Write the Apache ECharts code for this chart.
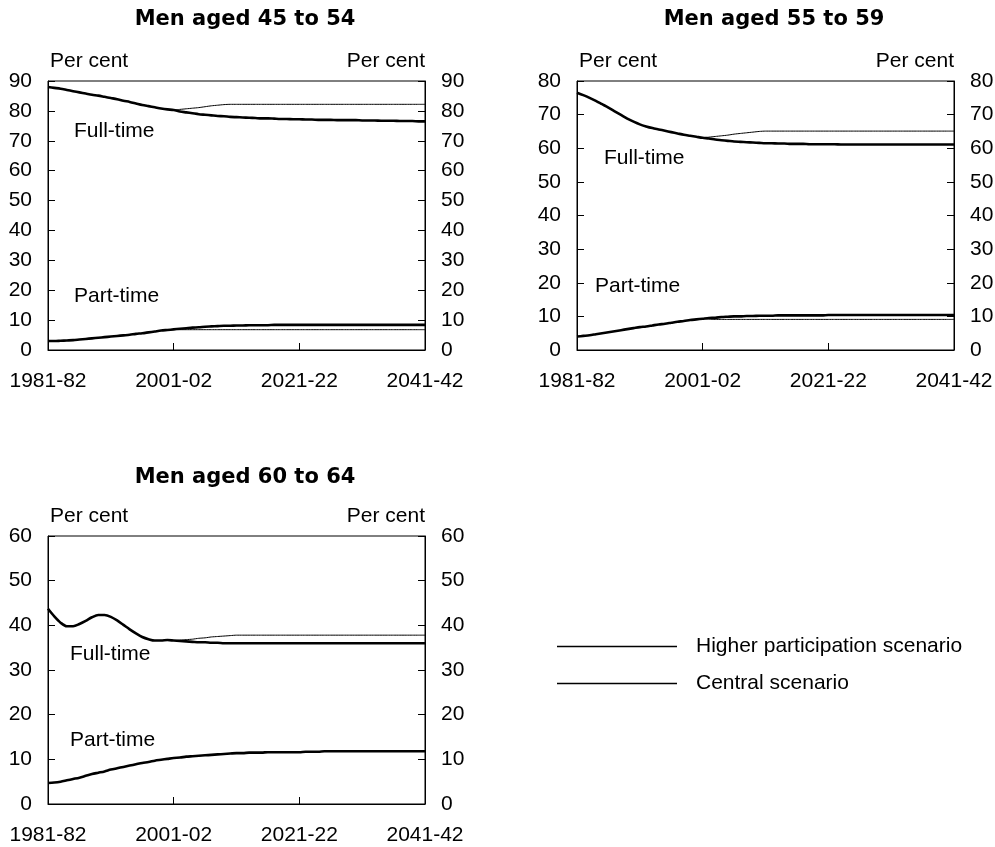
<!DOCTYPE html>
<html>
<head>
<meta charset="utf-8">
<style>
  html, body { margin: 0; padding: 0; background: #fff; }
  #chart { width: 995px; height: 847px; }
</style>
<script src="https://cdn.jsdelivr.net/npm/echarts@6/dist/echarts.min.js"></script>
</head>
<body>
<div id="chart"></div>
<script>
// ---------- Data ----------
const startYear = 1981;
const nYears = 61; // 1981-82 .. 2041-42
const years = [];
for (let i = 0; i < nYears; i++) {
  years.push((startYear + i) + '-' + String((startYear + 1 + i) % 100).padStart(2, '0'));
}
const xTickLabels = ['1981-82', '2001-02', '2021-22', '2041-42'];
const panelTitles = ['Men aged 45 to 54', 'Men aged 55 to 59', 'Men aged 60 to 64'];
const seriesNames = ['Higher participation scenario', 'Central scenario'];
const yMax = [90, 80, 60];

// Men aged 45 to 54 (annual, 1981-82 .. 2041-42)
const ftCentral45 = [
  88.0, 87.7, 87.4, 87.0, 86.6, 86.2, 85.8, 85.4, 85.1, 84.7,
  84.3, 83.9, 83.4, 83.0, 82.5, 82.0, 81.6, 81.2, 80.8, 80.5,
  80.3, 79.8, 79.5, 79.2, 78.9, 78.7, 78.5, 78.3, 78.2, 78.0,
  77.9, 77.8, 77.7, 77.6, 77.5, 77.5, 77.4, 77.3, 77.3, 77.2,
  77.2, 77.1, 77.1, 77.0, 77.0, 77.0, 76.9, 76.9, 76.9, 76.9,
  76.8, 76.8, 76.8, 76.7, 76.7, 76.7, 76.6, 76.6, 76.6, 76.5,
  76.5
];
// higher scenario values from 2001-02 onwards
const ftHigher45 = [
  80.3, 80.5, 80.7, 80.9, 81.1, 81.4, 81.7, 81.9, 82.1, 82.2,
  82.2, 82.2, 82.2, 82.2, 82.2, 82.2, 82.2, 82.2, 82.2, 82.2,
  82.2, 82.2, 82.2, 82.2, 82.2, 82.2, 82.2, 82.2, 82.2, 82.2,
  82.2, 82.2, 82.2, 82.2, 82.2, 82.2, 82.2, 82.2, 82.2, 82.2,
  82.2
];
const ptCentral45 = [
  3.0, 3.0, 3.1, 3.2, 3.3, 3.5, 3.7, 3.9, 4.1, 4.3,
  4.5, 4.7, 4.9, 5.1, 5.4, 5.6, 5.9, 6.2, 6.5, 6.7,
  6.9, 7.1, 7.3, 7.5, 7.6, 7.8, 7.9, 8.0, 8.1, 8.1,
  8.2, 8.2, 8.3, 8.3, 8.3, 8.3, 8.4, 8.4, 8.4, 8.4,
  8.4, 8.4, 8.4, 8.4, 8.4, 8.4, 8.4, 8.4, 8.4, 8.4,
  8.4, 8.4, 8.4, 8.4, 8.4, 8.4, 8.4, 8.4, 8.4, 8.4,
  8.4
];
const ptHigher45 = [
  6.9, 6.8, 6.8, 6.8, 6.8, 6.8, 6.8, 6.8, 6.8, 6.8,
  6.8, 6.8, 6.8, 6.8, 6.8, 6.8, 6.8, 6.8, 6.8, 6.8,
  6.8, 6.8, 6.8, 6.8, 6.8, 6.8, 6.8, 6.8, 6.8, 6.8,
  6.8, 6.8, 6.8, 6.8, 6.8, 6.8, 6.8, 6.8, 6.8, 6.8,
  6.8
];

// Men aged 55 to 59
const ftCentral55 = [
  76.5, 75.8, 75.0, 74.1, 73.1, 72.1, 71.0, 69.9, 68.8, 67.9,
  67.1, 66.5, 66.0, 65.6, 65.2, 64.8, 64.4, 64.0, 63.7, 63.4,
  63.1, 62.9, 62.6, 62.4, 62.2, 62.0, 61.9, 61.8, 61.7, 61.6,
  61.5, 61.5, 61.4, 61.4, 61.3, 61.3, 61.3, 61.2, 61.2, 61.2,
  61.2, 61.2, 61.1, 61.1, 61.1, 61.1, 61.1, 61.1, 61.1, 61.1,
  61.1, 61.1, 61.1, 61.1, 61.1, 61.1, 61.1, 61.1, 61.1, 61.1,
  61.1
];
const ftHigher55 = [
  63.1, 63.3, 63.5, 63.7, 63.9, 64.2, 64.4, 64.6, 64.8, 65.0,
  65.1, 65.1, 65.1, 65.1, 65.1, 65.1, 65.1, 65.1, 65.1, 65.1,
  65.1, 65.1, 65.1, 65.1, 65.1, 65.1, 65.1, 65.1, 65.1, 65.1,
  65.1, 65.1, 65.1, 65.1, 65.1, 65.1, 65.1, 65.1, 65.1, 65.1,
  65.1
];
const ptCentral55 = [
  4.0, 4.2, 4.4, 4.7, 5.0, 5.3, 5.6, 5.9, 6.2, 6.5,
  6.8, 7.0, 7.3, 7.6, 7.8, 8.1, 8.4, 8.6, 8.9, 9.1,
  9.3, 9.5, 9.6, 9.8, 9.9, 10.0, 10.0, 10.1, 10.1, 10.2,
  10.2, 10.2, 10.3, 10.3, 10.3, 10.3, 10.3, 10.3, 10.3, 10.3,
  10.4, 10.4, 10.4, 10.4, 10.4, 10.4, 10.4, 10.4, 10.4, 10.4,
  10.4, 10.4, 10.4, 10.4, 10.4, 10.4, 10.4, 10.4, 10.4, 10.4,
  10.4
];
const ptHigher55 = [
  9.3, 9.2, 9.1, 9.1, 9.1, 9.1, 9.1, 9.1, 9.1, 9.1,
  9.1, 9.1, 9.1, 9.1, 9.1, 9.1, 9.1, 9.1, 9.1, 9.1,
  9.1, 9.1, 9.1, 9.1, 9.1, 9.1, 9.1, 9.1, 9.1, 9.1,
  9.1, 9.1, 9.1, 9.1, 9.1, 9.1, 9.1, 9.1, 9.1, 9.1,
  9.1
];

// Men aged 60 to 64
const ftCentral60 = [
  43.7, 42.0, 40.6, 39.8, 39.8, 40.3, 41.0, 41.8, 42.3, 42.3,
  41.9, 41.1, 40.1, 39.1, 38.2, 37.4, 36.9, 36.6, 36.6, 36.7,
  36.6, 36.5, 36.4, 36.3, 36.2, 36.2, 36.1, 36.1, 36.0, 36.0,
  36.0, 36.0, 36.0, 36.0, 36.0, 36.0, 36.0, 36.0, 36.0, 36.0,
  36.0, 36.0, 36.0, 36.0, 36.0, 36.0, 36.0, 36.0, 36.0, 36.0,
  36.0, 36.0, 36.0, 36.0, 36.0, 36.0, 36.0, 36.0, 36.0, 36.0,
  36.0
];
const ftHigher60 = [
  36.6, 36.7, 36.8, 36.9, 37.1, 37.2, 37.4, 37.5, 37.6, 37.7,
  37.8, 37.8, 37.8, 37.8, 37.8, 37.8, 37.8, 37.8, 37.8, 37.8,
  37.8, 37.8, 37.8, 37.8, 37.8, 37.8, 37.8, 37.8, 37.8, 37.8,
  37.8, 37.8, 37.8, 37.8, 37.8, 37.8, 37.8, 37.8, 37.8, 37.8,
  37.8
];
const ptCentral60 = [
  4.7, 4.8, 5.0, 5.3, 5.6, 5.9, 6.3, 6.7, 7.0, 7.3,
  7.7, 8.0, 8.3, 8.6, 8.9, 9.2, 9.4, 9.7, 9.9, 10.1,
  10.3, 10.4, 10.6, 10.7, 10.8, 10.9, 11.0, 11.1, 11.2, 11.3,
  11.4, 11.4, 11.5, 11.5, 11.5, 11.6, 11.6, 11.6, 11.6, 11.6,
  11.6, 11.7, 11.7, 11.7, 11.8, 11.8, 11.8, 11.8, 11.8, 11.8,
  11.8, 11.8, 11.8, 11.8, 11.8, 11.8, 11.8, 11.8, 11.8, 11.8,
  11.8
];
const ptHigher60 = [
  10.3, 10.4, 10.6, 10.7, 10.8, 10.9, 11.0, 11.1, 11.2, 11.3,
  11.4, 11.4, 11.5, 11.5, 11.5, 11.6, 11.6, 11.6, 11.6, 11.6,
  11.6, 11.7, 11.7, 11.7, 11.8, 11.8, 11.8, 11.8, 11.8, 11.8,
  11.8, 11.8, 11.8, 11.8, 11.8, 11.8, 11.8, 11.8, 11.8, 11.8,
  11.8
];

// ---------- Chart ----------
const FONT = '"Liberation Sans", Arial, Helvetica, sans-serif';
const FS = 21;
const TITLE_FONT = 'bold 21px "DejaVu Sans", Verdana, sans-serif';
const LABEL_FONT = FS + 'px "Liberation Sans", Arial, sans-serif';

const panels = [
  { grid: { left: 48, top: 81, width: 377, height: 269 }, title: [245, 20],
    ft: [74, 131], pt: [74, 296],
    data: [ftHigher45, ftCentral45, ptHigher45, ptCentral45] },
  { grid: { left: 577, top: 81, width: 377, height: 269 }, title: [774, 20],
    ft: [604, 158], pt: [595, 286],
    data: [ftHigher55, ftCentral55, ptHigher55, ptCentral55] },
  { grid: { left: 48, top: 536, width: 377, height: 268 }, title: [245, 478],
    ft: [70, 654], pt: [70, 740],
    data: [ftHigher60, ftCentral60, ptHigher60, ptCentral60] }
];

const histOffset = years.indexOf('2001-02');
function padHigher(arr) {
  return new Array(histOffset).fill(null).concat(arr);
}

const grids = [], xAxes = [], yAxes = [], series = [], graphics = [];

panels.forEach((p, i) => {
  grids.push(Object.assign({
    show: true, borderColor: '#000', borderWidth: 1,
    backgroundColor: 'transparent', outerBoundsMode: 'none', containLabel: false
  }, p.grid));

  xAxes.push({
    gridIndex: i, type: 'category', data: years, boundaryGap: false,
    axisLine: { show: true, lineStyle: { color: '#000', width: 1 } },
    axisTick: { show: true, inside: true, length: 7, interval: 19, lineStyle: { color: '#000' } },
    axisLabel: {
      interval: 19, color: '#000', fontSize: FS, fontFamily: FONT, margin: 21,
      formatter: v => (xTickLabels.indexOf(v) >= 0 ? v : '')
    },
    splitLine: { show: false }
  });

  ['left', 'right'].forEach(pos => {
    yAxes.push({
      gridIndex: i, type: 'value', position: pos, min: 0, max: yMax[i], interval: 10,
      axisLine: { show: true, lineStyle: { color: '#000', width: 1 } },
      axisTick: { show: true, inside: true, length: 7, lineStyle: { color: '#000' } },
      axisLabel: { color: '#000', fontSize: FS, fontFamily: FONT, margin: 16 },
      splitLine: { show: false },
      name: 'Per cent', nameLocation: 'end', nameGap: 20,
      nameTextStyle: {
        color: '#000', fontSize: FS, fontFamily: FONT,
        align: pos === 'left' ? 'left' : 'right', verticalAlign: 'middle',
        padding: pos === 'left' ? [0, 0, 0, 2] : [0, 0, 0, 0]
      }
    });
  });

  const yIdx = i * 2;
  const [ftH, ftC, ptH, ptC] = p.data;
  const thin = { color: '#000', width: 1 };
  const thick = { color: '#000', width: 2.6 };
  [[ftH, 0], [ptH, 0], [ftC, 1], [ptC, 1]].forEach(([d, k]) => {
    series.push({
      name: seriesNames[k], type: 'line',
      xAxisIndex: i, yAxisIndex: yIdx,
      data: k === 0 ? padHigher(d) : d,
      showSymbol: false, symbol: 'none',
      smooth: k === 1 ? 0.3 : 0.2,
      lineStyle: k === 0 ? thin : thick,
      itemStyle: { color: '#000' },
      z: k === 0 ? 2 : 3,
      silent: true, animation: false
    });
  });

  graphics.push({
    type: 'text', x: p.title[0], y: p.title[1],
    style: { text: panelTitles[i], font: TITLE_FONT, fill: '#000', align: 'center', verticalAlign: 'middle' }
  });
  graphics.push({
    type: 'text', x: p.ft[0], y: p.ft[1],
    style: { text: 'Full-time', font: LABEL_FONT, fill: '#000', align: 'left', verticalAlign: 'middle' }
  });
  graphics.push({
    type: 'text', x: p.pt[0], y: p.pt[1],
    style: { text: 'Part-time', font: LABEL_FONT, fill: '#000', align: 'left', verticalAlign: 'middle' }
  });
});

const chart = echarts.init(document.getElementById('chart'), null, { renderer: 'canvas' });
chart.setOption({
  backgroundColor: '#fff',
  animation: false,
  grid: grids,
  xAxis: xAxes,
  yAxis: yAxes,
  series: series,
  legend: {
    orient: 'vertical', left: 557, top: 636, padding: 0,
    itemWidth: 120, itemHeight: 1.4, itemGap: 16,
    icon: 'rect',
    selectedMode: false,
    itemStyle: { color: '#000', borderWidth: 0 },
    textStyle: { color: '#000', fontSize: FS, fontFamily: FONT, padding: [0, 0, 0, 14] },
    data: seriesNames
  },
  graphic: graphics
});
</script>
</body>
</html>
